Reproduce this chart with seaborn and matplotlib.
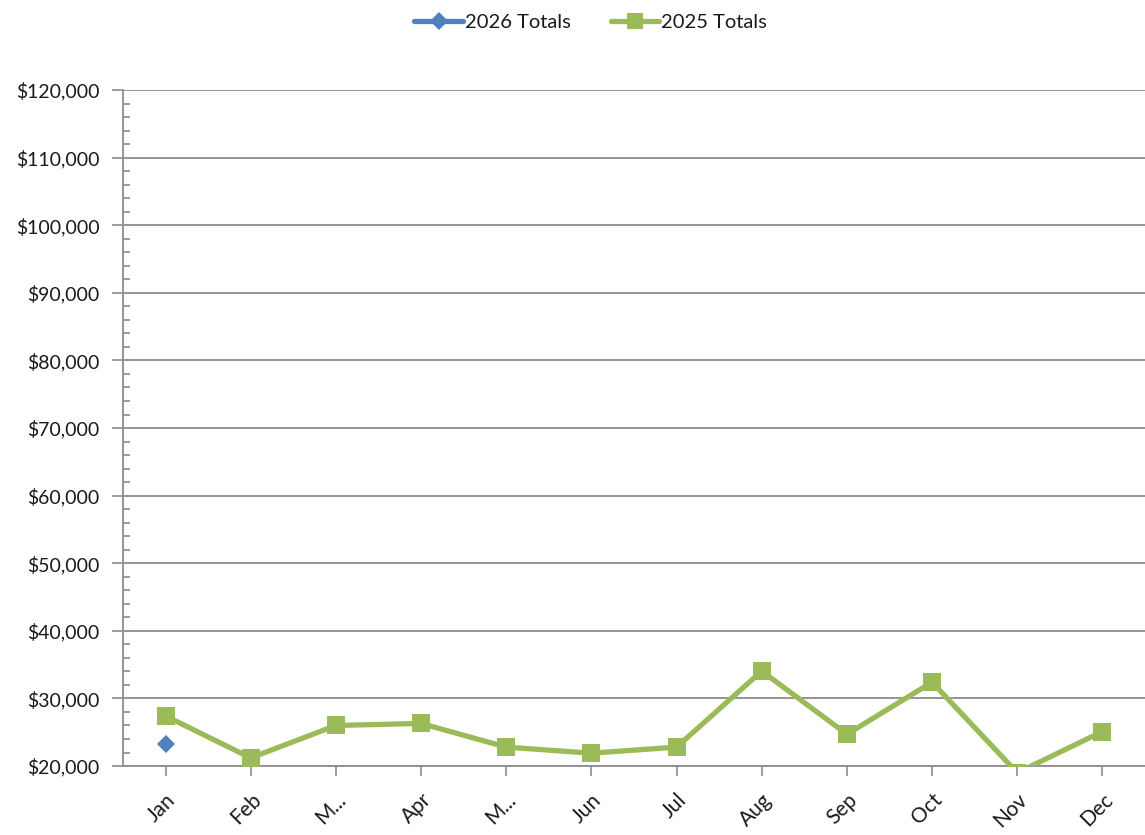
import numpy as np
import pandas as pd
import seaborn as sns
from matplotlib import pyplot as plt
from matplotlib.ticker import MultipleLocator, FuncFormatter
from matplotlib.lines import Line2D

months = ["Jan", "Feb", "Mar", "Apr", "May", "Jun", "Jul", "Aug", "Sep", "Oct", "Nov", "Dec"]
tick_labels = ["Jan", "Feb", "M...", "Apr", "M...", "Jun", "Jul", "Aug", "Sep", "Oct", "Nov", "Dec"]
totals_2026 = [23250, np.nan, np.nan, np.nan, np.nan, np.nan, np.nan, np.nan, np.nan, np.nan, np.nan, np.nan]
totals_2025 = [27400, 21200, 26000, 26300, 22800, 21900, 22800, 34050, 24700, 32400, 19000, 25100]

blue = "#4F81BD"
green = "#9BBB59"
grid_col = "#8C8C8C"

sns.set_style("white")
plt.rcParams['font.family'] = ['Lato', 'DejaVu Sans']

df = pd.DataFrame({"pos": np.arange(len(months)), "month": months,
                   "2026 Totals": totals_2026, "2025 Totals": totals_2025})

fig = plt.figure(figsize=(11.45, 8.35), dpi=100)
ax = fig.add_axes([0.1074, 0.0826, 0.8926, 0.8096])

sns.lineplot(data=df, x="pos", y="2025 Totals", ax=ax, color=green, linewidth=3.8,
             marker="s", markersize=12.5, markeredgewidth=0, zorder=3)
ax.plot(df["pos"], df["2026 Totals"], color=blue, linewidth=3.8, marker="D",
        markersize=9, markeredgewidth=0, zorder=4)

ax.set_xlim(-0.5, 11.5)
ax.set_ylim(20000, 120000)
ax.yaxis.set_major_locator(MultipleLocator(10000))
ax.yaxis.set_minor_locator(MultipleLocator(2000))
ax.yaxis.set_major_formatter(FuncFormatter(lambda v, p: f"${v:,.0f}"))
ax.set_xticks(df["pos"])
ax.set_xticklabels(tick_labels, rotation=45, ha="right", rotation_mode="anchor")
ax.set_xlabel("")
ax.set_ylabel("")

ax.grid(axis="y", which="major", color=grid_col, linewidth=1.3)
ax.set_axisbelow(True)
for s in ["top", "right"]:
    ax.spines[s].set_visible(False)
for s in ["left", "bottom"]:
    ax.spines[s].set_color(grid_col)
    ax.spines[s].set_linewidth(1.3)

ax.tick_params(axis="y", which="major", direction="out", length=8, width=1.2,
               color=grid_col, labelsize=14, pad=9, left=True, labelcolor="#1a1a1a")
ax.tick_params(axis="y", which="minor", direction="in", length=5, width=1.2,
               color=grid_col, left=True)
ax.tick_params(axis="x", which="major", direction="out", length=7, width=1.2,
               color=grid_col, labelsize=15, pad=10, bottom=True, labelcolor="#1a1a1a")

handles = [Line2D([0], [0], color=blue, linewidth=3.8, marker="D", markersize=9, markeredgewidth=0),
           Line2D([0], [0], color=green, linewidth=3.8, marker="s", markersize=11, markeredgewidth=0)]
fig.legend(handles, ["2026 Totals", "2025 Totals"], loc="upper center",
           bbox_to_anchor=(0.516, 1.005), ncol=2, frameon=False, fontsize=14.5,
           labelcolor="#1a1a1a", handlelength=2.4, handletextpad=0.1, columnspacing=2.0)

plt.savefig("out.png", dpi=100)
